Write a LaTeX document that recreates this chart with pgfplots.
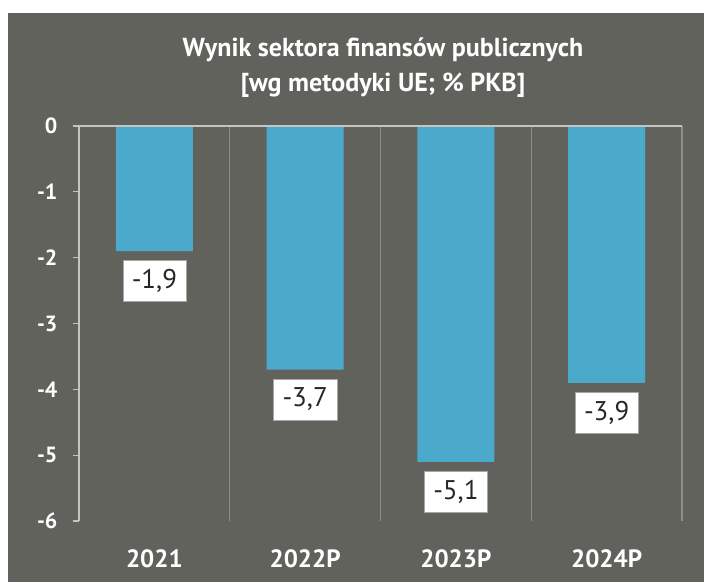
\documentclass[border=0pt]{standalone}
\usepackage{pgfplots}
\pgfplotsset{compat=1.18}
\usepackage{fontspec}
\setmainfont{PT Sans}
\definecolor{bg}{HTML}{62625D}
\definecolor{barc}{HTML}{4BAACB}
\definecolor{axl}{HTML}{C4C4C0}
\definecolor{grd}{HTML}{8E8E88}
\begin{document}
\begin{tikzpicture}[x=1pt,y=1pt]
\fill[white] (0,0) rectangle (704,582);
\fill[bg] (8,0) rectangle (704,569);
\node[text=white,font=\bfseries\fontsize{26}{26}\selectfont] at (383,532) {Wynik sektora finansów publicznych};
\node[text=white,font=\bfseries\fontsize{26}{26}\selectfont] at (383,497) {[wg metodyki UE; \% PKB]};
\begin{axis}[
  at={(79pt,61pt)}, anchor=south west,
  scale only axis, width=603pt, height=395pt,
  xmin=-0.5, xmax=3.5, ymin=-6, ymax=0,
  axis line style={draw=none},
  ybar, bar width=77pt, bar shift=0pt,
  xtick={0,1,2,3}, xticklabels={2021,2022P,2023P,2024P},
  xtick style={draw=none},
  minor xtick={0.5,1.5,2.5,3.5},
  minor x tick style={draw=none},
  minor x grid style={grd, line width=1.2pt},
  xminorgrids=true,
  ytick={0,-1,-2,-3,-4,-5,-6},
  ytick pos=left, tick align=outside,
  major tick length=6pt,
  ytick style={axl, line width=1.2pt},
  /pgf/number format/assume math mode=true,
  yticklabel style={text=white, font=\bfseries\fontsize{22}{22}\selectfont, xshift=-12pt},
  xticklabel style={text=white, font=\bfseries\fontsize{25}{25}\selectfont, yshift=-19pt},
  point meta=y,
  nodes near coords={\pgfmathprintnumber[fixed,fixed zerofill,precision=1,use comma,assume math mode=true]{\pgfplotspointmeta}},
  every node near coord/.append style={anchor=north, yshift=-9pt, fill=white, draw=gray!70, text=black!85, inner xsep=9pt, inner ysep=9pt, font=\fontsize{27}{27}\selectfont},
  clip=false,
]
\addplot[fill=barc, draw=none] coordinates {(0,-1.9) (1,-3.7) (2,-5.1) (3,-3.9)};
\draw[axl, line width=1.5pt] (axis cs:-0.5,0) -- (axis cs:-0.5,-6);
\draw[axl, line width=1.5pt] (axis cs:-0.5,0) -- (axis cs:3.5,0);
\end{axis}
\end{tikzpicture}
\end{document}
